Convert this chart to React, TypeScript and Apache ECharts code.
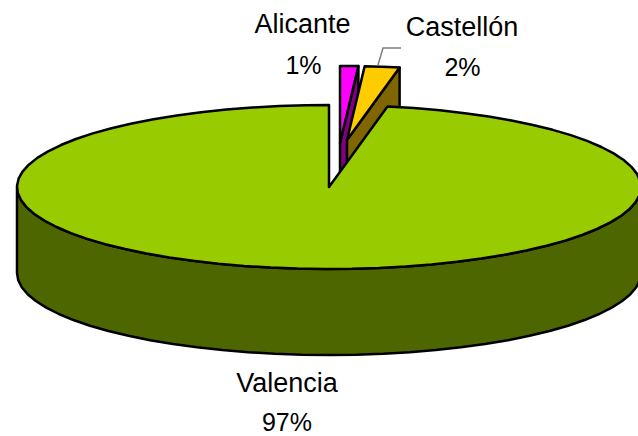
import React, { useEffect, useRef } from "react";
import * as echarts from "echarts";

const categories = ["Alicante", "Castellón", "Valencia"];
const shares = [1, 2, 97];
const topColors = ["#FF00FF", "#FFCC00", "#99CC00"];
const sideColors = ["#800080", "#806600", "#4D6600"];

const CX = 329;
const CY = 187;
const RX = 312;
const RY = 82;
const DEPTH = 86;
const STEP = 5;
const FONT = "'Liberation Sans', Arial, sans-serif";
const NAME_SIZE = 27;
const PCT_SIZE = 25;

// Explosion of each slice: shift of the apex and shrink of the radius
const explode = [
  { dx: 11, dy: -44, scale: 0.94 },
  { dx: 18, dy: -47, scale: 0.9 },
  { dx: 0, dy: 0, scale: 1 },
];
const labelPos = [
  { nameX: 302.5, nameY: 24, pctX: 303.5, pctY: 65 },
  { nameX: 462, nameY: 27, pctX: 462.5, pctY: 67 },
  { nameX: 287, nameY: 383, pctX: 287, pctY: 422 },
];

const total = shares.reduce((a, b) => a + b, 0);

function point(i: number, deg: number, r = 1, drop = 0): number[] {
  const a = (deg * Math.PI) / 180;
  const e = explode[i];
  return [
    CX + e.dx + r * e.scale * RX * Math.sin(a),
    CY + e.dy + drop - r * e.scale * RY * Math.cos(a),
  ];
}

function arc(i: number, from: number, to: number, drop = 0): number[][] {
  const pts: number[][] = [];
  for (let d = from; d < to; d += STEP) pts.push(point(i, d, 1, drop));
  pts.push(point(i, to, 1, drop));
  return pts;
}

const strokeStyle = (fill: string) => ({
  fill,
  stroke: "#000000",
  lineWidth: 2.5,
  lineJoin: "round",
});

function renderItem(params: any, api: any) {
  const i = params.dataIndex;
  const before = shares.slice(0, i).reduce((a, b) => a + b, 0);
  const start = (before / total) * 360;
  const end = start + (api.value(0) / total) * 360;
  const children: any[] = [];

  const apex = point(i, 0, 0);
  const apexLow = point(i, 0, 0, DEPTH);

  if (end - start > 180) {
    // outer wall of the big slice: front half of the rim
    const from = Math.max(start, 90);
    const to = 270;
    const wall = [...arc(i, from, to), ...arc(i, from, to, DEPTH).reverse()];
    children.push({
      type: "polygon",
      shape: { points: wall },
      style: strokeStyle(sideColors[i]),
    });
  } else {
    // cut face of a small exploded slice
    const a = point(i, end);
    const b = point(i, end, 1, DEPTH);
    children.push({
      type: "polygon",
      shape: { points: [apex, a, b, apexLow] },
      style: strokeStyle(sideColors[i]),
    });
  }

  children.push({
    type: "polygon",
    shape: { points: [apex, ...arc(i, start, end)] },
    style: strokeStyle(topColors[i]),
  });

  const l = labelPos[i];
  children.push({
    type: "text",
    z2: 10,
    style: {
      x: l.nameX,
      y: l.nameY,
      text: categories[i],
      fill: "#000000",
      font: `${NAME_SIZE}px ${FONT}`,
      align: "center",
      verticalAlign: "middle",
    },
  });
  children.push({
    type: "text",
    z2: 10,
    style: {
      x: l.pctX,
      y: l.pctY,
      text: `${shares[i]}%`,
      fill: "#000000",
      font: `${PCT_SIZE}px ${FONT}`,
      align: "center",
      verticalAlign: "middle",
    },
  });

  return { type: "group", children };
}

export default function App() {
  const ref = useRef<HTMLDivElement>(null);
  useEffect(() => {
    const chart = echarts.init(ref.current!, undefined, { renderer: "svg" });
    chart.setOption({
      animation: false,
      backgroundColor: "#FFFFFF",
      series: [
        {
          type: "custom",
          coordinateSystem: "none",
          renderItem,
          clip: false,
          data: categories.map((name, i) => ({ name, value: [shares[i]] })),
        },
      ],
      graphic: [
        {
          type: "polyline",
          z: 20,
          shape: {
            points: [
              [401, 48],
              [383, 48],
              [378, 65],
            ],
          },
          style: { fill: "none", stroke: "#808080", lineWidth: 1.5 },
        },
      ],
    });
    return () => chart.dispose();
  }, []);
  return (
    <div
      ref={ref}
      style={{ position: "fixed", left: 0, top: 0, width: 638, height: 436 }}
    />
  );
}
